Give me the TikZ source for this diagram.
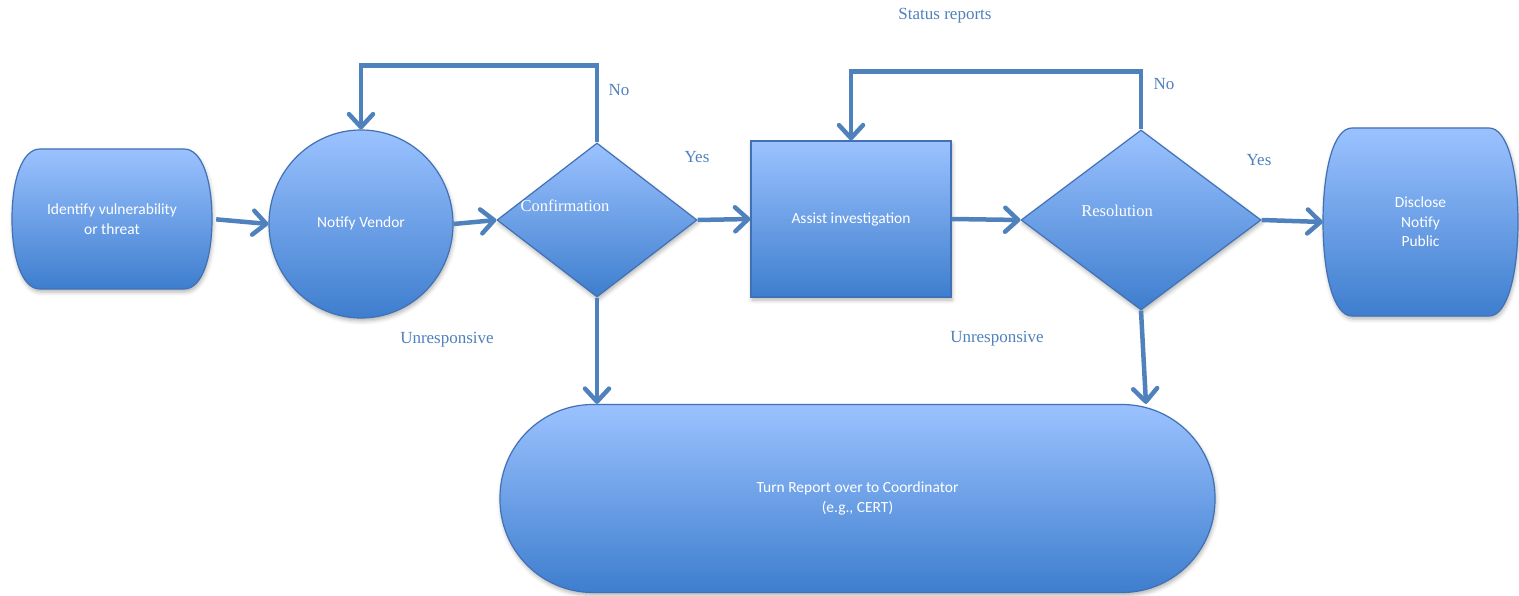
\documentclass[tikz,border=0pt]{standalone}
\usepackage{fontspec}
\setmainfont{Carlito}
\newfontfamily\lblfont{Liberation Serif}
\usetikzlibrary{arrows.meta,shapes.geometric,shadows.blur}
\definecolor{arrowc}{RGB}{79,129,189}
\definecolor{topc}{RGB}{155,194,255}
\definecolor{botc}{RGB}{62,126,206}
\definecolor{edgec}{RGB}{65,113,180}
\definecolor{lblc}{RGB}{79,129,189}
\begin{document}
\begin{tikzpicture}[x=1pt,y=-1pt,
  shapefill/.style={draw=edgec, line width=1.2pt, top color=topc, bottom color=botc,
    blur shadow={shadow xshift=1pt, shadow yshift=-3pt, shadow opacity=30, shadow blur radius=4pt}},
  intext/.style={text=white, font=\fontsize{15.5}{20}\selectfont, align=center},
  lbl/.style={text=lblc, font=\lblfont\fontsize{17}{20}\selectfont, inner sep=0pt},
  conn/.style={draw=arrowc, line width=4.5pt, -{Straight Barb[length=13pt,width=24pt,round]}}]
\useasboundingbox (0,0) rectangle (1519,596);

% shapes
\path[shapefill] (40,149) -- (184,149) .. controls (202,149) and (212,180) .. (212,219)
  .. controls (212,258) and (202,289) .. (184,289) -- (40,289)
  .. controls (22,289) and (12,258) .. (12,219) .. controls (12,180) and (22,149) .. (40,149) -- cycle;
\node[intext, minimum width=200pt, minimum height=140pt, inner sep=0pt] (ident) at (112,219) {Identify vulnerability\\or threat};

\node[shapefill, ellipse, minimum width=184pt, minimum height=188pt, inner sep=0pt, intext] (notify) at (361,224) {\raisebox{3pt}{Notify Vendor}};

\node[shapefill, diamond, minimum width=200pt, minimum height=154pt, inner sep=0pt] (conf) at (597,220) {};
\node[intext, font=\lblfont\fontsize{16.5}{20}\selectfont, inner sep=0pt] (conftxt) at (565,206) {Confirmation};

\node[shapefill, rectangle, minimum width=200pt, minimum height=156pt, inner sep=0pt, intext] (assist) at (851,219) {Assist investigation};

\node[shapefill, diamond, minimum width=240pt, minimum height=180pt, inner sep=0pt] (res) at (1141,220) {};
\node[intext, font=\lblfont\fontsize{16.5}{20}\selectfont, inner sep=0pt] (restxt) at (1117,211) {Resolution};

\path[shapefill] (1352,128) -- (1489,128) .. controls (1508,128) and (1518,172) .. (1518,222)
  .. controls (1518,272) and (1508,316) .. (1489,316) -- (1352,316)
  .. controls (1333,316) and (1323,272) .. (1323,222) .. controls (1323,172) and (1333,128) .. (1352,128) -- cycle;
\node[intext, font=\fontsize{15.5}{19.5}\selectfont, minimum width=195pt, minimum height=188pt, inner sep=0pt] (disc) at (1420.5,222) {Disclose\\Notify\\Public};

\node[shapefill, rectangle, rounded corners=93pt, minimum width=715pt, minimum height=188pt, inner sep=0pt, intext] (report) at (857.5,498.5) {Turn Report over to Coordinator\\(e.g., CERT)};

% labels
\node[lbl] (status) at (945,16) {Status reports};
\node[lbl] (no1) at (619,90) {No};
\node[lbl] (yes1) at (697,157) {Yes};
\node[lbl] (no2) at (1164,84) {No};
\node[lbl] (yes2) at (1259,160) {Yes};
\node[lbl] (unr1) at (447,340) {Unresponsive};
\node[lbl] (unr2) at (997,339) {Unresponsive};

% connectors
\draw[conn, shorten <=4pt] (ident.east) -- (notify.west);
\draw[conn] (notify.east) -- (conf.west);
\draw[conn] (conf.east) -- (assist.west);
\draw[conn] (assist.east) -- (res.west);
\draw[conn] (res.east) -- (disc.west);
\draw[conn] (conf.north) -- ++(0,-77) -| (notify.north);
\draw[conn] (res.north) -- ++(0,-58) -| (assist.north);
\draw[conn] (conf.south) -- (conf.south |- report.north);
\coordinate (rs) at ([xshift=5pt]res.south);
\draw[conn] (res.south) -- (rs |- report.north);
\end{tikzpicture}
\end{document}
